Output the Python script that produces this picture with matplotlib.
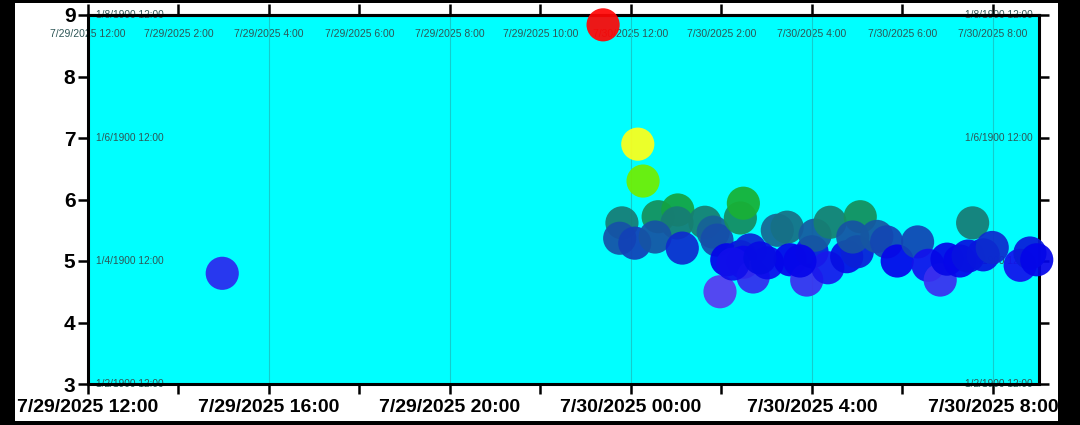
import matplotlib
matplotlib.use("Agg")
import numpy as np
import pandas as pd
import matplotlib.pyplot as plt
import matplotlib.dates as mdates
from matplotlib.colors import LinearSegmentedColormap, Normalize
from matplotlib.patches import Rectangle
from matplotlib.ticker import FuncFormatter, FixedLocator, MultipleLocator
from datetime import datetime

plt.rcParams["font.family"] = ["Liberation Sans", "DejaVu Sans"]

# readings (time, value)
times = [
    "2025-07-29 14:58", "2025-07-29 23:23", "2025-07-30 00:09", "2025-07-30 00:16",
    "2025-07-29 23:48", "2025-07-29 23:45", "2025-07-30 00:05", "2025-07-30 00:36",
    "2025-07-30 01:02", "2025-07-30 01:01", "2025-07-30 00:32", "2025-07-30 01:08",
    "2025-07-30 01:38", "2025-07-30 01:49", "2025-07-30 01:54", "2025-07-30 02:25",
    "2025-07-30 02:29", "2025-07-30 01:58", "2025-07-30 02:07", "2025-07-30 02:25",
    "2025-07-30 02:38", "2025-07-30 02:29", "2025-07-30 02:42", "2025-07-30 03:01",
    "2025-07-30 03:14", "2025-07-30 03:27", "2025-07-30 03:31", "2025-07-30 03:53",
    "2025-07-30 04:00", "2025-07-30 04:04", "2025-07-30 04:21", "2025-07-30 04:24",
    "2025-07-30 04:46", "2025-07-30 05:00", "2025-07-30 05:04", "2025-07-30 04:54",
    "2025-07-30 05:26", "2025-07-30 05:39", "2025-07-30 05:53", "2025-07-30 06:20",
    "2025-07-30 06:34", "2025-07-30 06:50", "2025-07-30 06:59", "2025-07-30 07:16",
    "2025-07-30 07:27", "2025-07-30 07:33", "2025-07-30 07:47", "2025-07-30 07:59",
    "2025-07-30 08:36", "2025-07-30 08:49", "2025-07-30 08:58", "2025-07-30 02:15",
    "2025-07-30 02:51", "2025-07-30 03:44",
]
values = [
    4.80, 8.84, 6.90, 6.30,
    5.62, 5.37, 5.29, 5.72,
    5.83, 5.62, 5.39, 5.21,
    5.63, 5.47, 5.34, 5.70,
    5.94, 4.50, 5.02, 5.07,
    5.18, 4.98, 4.74, 4.97,
    5.50, 5.55, 5.02, 4.69,
    5.15, 5.42, 4.89, 5.63,
    5.07, 5.15, 5.72, 5.39,
    5.40, 5.31, 5.00, 5.31,
    4.93, 4.69, 5.03, 5.00,
    5.08, 5.62, 5.10, 5.22,
    4.93, 5.13, 5.02, 4.95,
    5.05, 5.00,
]

# colour stops (value -> colour) used by the marker colour scale
stop_values = [4.5, 4.8, 5.0, 5.2, 5.35, 5.5, 5.65, 5.8, 6.0, 6.3, 6.9, 8.8]
stop_colors = ["#5a3af0", "#2a28ee", "#0404ea", "#0c2ad0", "#1650a8", "#176892",
               "#17836c", "#129e48", "#1cba2c", "#70ee00", "#ffff1a", "#ff0606"]

y_inner_labels = [3, 5, 7, 9]

t = pd.to_datetime(times)
vmin, vmax = stop_values[0], stop_values[-1]
cmap = LinearSegmentedColormap.from_list(
    "custom", [((v - vmin) / (vmax - vmin), c) for v, c in zip(stop_values, stop_colors)])
norm = Normalize(vmin, vmax)

W, H = 1080, 425
fig = plt.figure(figsize=(W / 100, H / 100), dpi=100, facecolor="black")
fig.patches.append(Rectangle((15 / W, 4 / H), 1043 / W, 418 / H,
                             transform=fig.transFigure, facecolor="white",
                             edgecolor="none", zorder=-10))

ax = fig.add_axes([88 / W, 41 / H, 951 / W, 369 / H])
ax.set_facecolor("#00ffff")

ax.scatter(t, values, c=values, cmap=cmap, norm=norm, s=570, alpha=0.93,
           linewidths=0, zorder=3, clip_on=False)

ax.set_xlim(datetime(2025, 7, 29, 12, 0), datetime(2025, 7, 30, 9, 1))
ax.set_ylim(3, 9)


def fmt_bottom(x, pos):
    d = mdates.num2date(x)
    hh = "00" if d.hour == 0 else str(d.hour)
    return f"{d.month}/{d.day}/{d.year} {hh}:{d.minute:02d}"


def fmt_top(x, pos):
    d = mdates.num2date(x)
    h12 = d.hour % 12 or 12
    return f"{d.month}/{d.day}/{d.year} {h12}:{d.minute:02d}"


ax.xaxis.set_major_locator(mdates.HourLocator(byhour=range(0, 24, 4)))
ax.xaxis.set_minor_locator(mdates.HourLocator(byhour=range(0, 24, 2)))
ax.xaxis.set_major_formatter(FuncFormatter(fmt_bottom))
ax.tick_params(axis="x", which="both", direction="out", length=7, width=1.8,
               labelsize=14, pad=4)
for lbl in ax.get_xticklabels():
    lbl.set_fontweight("bold")

ax.yaxis.set_major_locator(MultipleLocator(1))
ax.yaxis.set_minor_locator(FixedLocator(y_inner_labels))
ax.tick_params(axis="y", which="major", direction="out", length=7, width=1.8,
               right=True, labelsize=15, pad=2)
ax.tick_params(axis="y", which="minor", length=0)
for lbl in ax.get_yticklabels():
    lbl.set_fontweight("bold")

ax.grid(True, which="major", axis="x", color="#14cccc", linewidth=0.8, zorder=1)
ax.grid(True, which="minor", axis="y", color="#14cccc", linewidth=0.8, zorder=1)
ax.set_axisbelow(True)

for sp in ax.spines.values():
    sp.set_linewidth(2.2)
    sp.set_color("black")

# top axis with 12-hour labels drawn inside the plot
sec = ax.secondary_xaxis("top")
sec.xaxis.set_major_locator(mdates.HourLocator(byhour=range(0, 24, 2)))
sec.xaxis.set_major_formatter(FuncFormatter(fmt_top))
sec.tick_params(direction="out", length=8, width=1.8, pad=-25,
                labelsize=7.5, labelcolor="#2e5656")
sec.spines["top"].set_linewidth(2.2)

# inner date-style labels on both sides
tr = ax.get_yaxis_transform()
for v in y_inner_labels:
    txt = f"1/{v - 1}/1900 12:00"
    ax.text(0.008, v, txt, transform=tr, ha="left", va="center",
            fontsize=7.3, color="#2e5656", zorder=2)
    ax.text(0.993, v, txt, transform=tr, ha="right", va="center",
            fontsize=7.3, color="#2e5656", zorder=2)

fig.savefig("out.png", dpi=100, facecolor="black")
